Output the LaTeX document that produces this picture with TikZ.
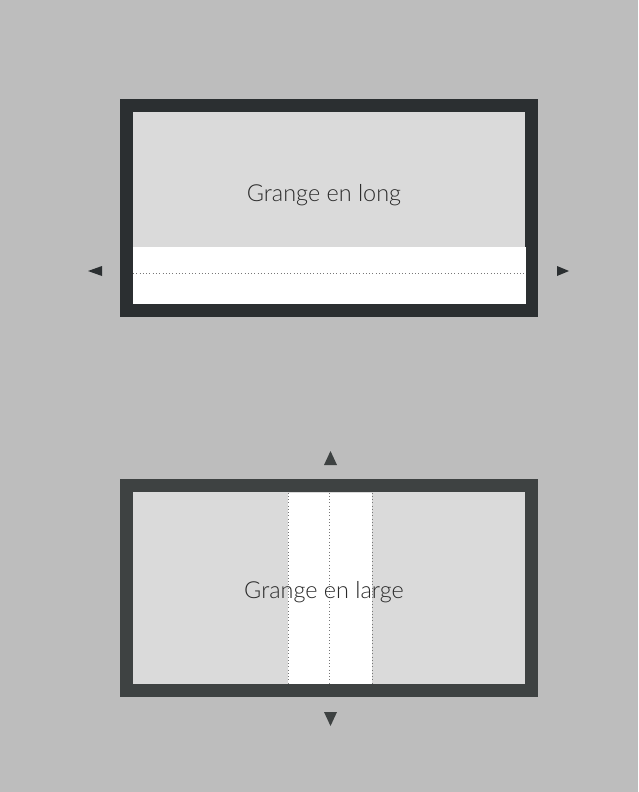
\documentclass[tikz,border=0pt]{standalone}
\usepackage{fontspec}
\setmainfont{Lato}
\newfontfamily\lightface{Lato Light}
\usepackage{tikz}
\usetikzlibrary{positioning}
\definecolor{Paper}{HTML}{BDBDBD}
\definecolor{Floor}{HTML}{DADADA}
\definecolor{Wall}{HTML}{2B2F31}
\definecolor{WallB}{HTML}{3E4242}
\definecolor{Ink}{HTML}{2A2A2A}
\definecolor{Guide}{HTML}{777777}

\begin{document}
\begin{tikzpicture}[x=0.03cm,y=-0.03cm]
  \tikzset{
    barn/.style={line width=13*0.03cm, fill=Floor},
    label/.style={font=\lightface\fontsize{20}{24}\selectfont, text=Ink},
    guide/.style={Guide, line width=0.8pt, dotted},
    tip/.style={fill=Wall}
  }
  % paper
  \fill[Paper] (0,0) rectangle (638,792);
  \useasboundingbox (0,0) rectangle (638,792);

  % barn, long side
  \draw[barn, draw=Wall] (126.5,106) rectangle (531.5,310);
  \fill[white] (133,247) rectangle (526,303.5);
  \coordinate (lw) at (133,273);
  \coordinate (le) at (526,273);
  \draw[guide] (lw) -- (le);
  \fill[tip] (88,271) -- (102,266) -- (102,276) -- cycle;
  \fill[tip] (569,271) -- (557,266) -- (557,276) -- cycle;
  \node[label] (long) at (324,195) {Grange en long};

  % barn, wide side
  \draw[barn, draw=WallB] (126.5,485.5) rectangle (531.5,690);
  \fill[white] (288,492.5) rectangle (372,683.5);
  \foreach \x in {288,329,372}
    \draw[guide] (\x,492.5) -- (\x,683.5);
  \fill[tip, fill=WallB] (330.5,451) -- (324,465) -- (337,465) -- cycle;
  \fill[tip, fill=WallB] (330.5,726) -- (324,712) -- (337,712) -- cycle;
  \node[label] (large) at (324,592) {Grange en large};
\end{tikzpicture}
\end{document}
